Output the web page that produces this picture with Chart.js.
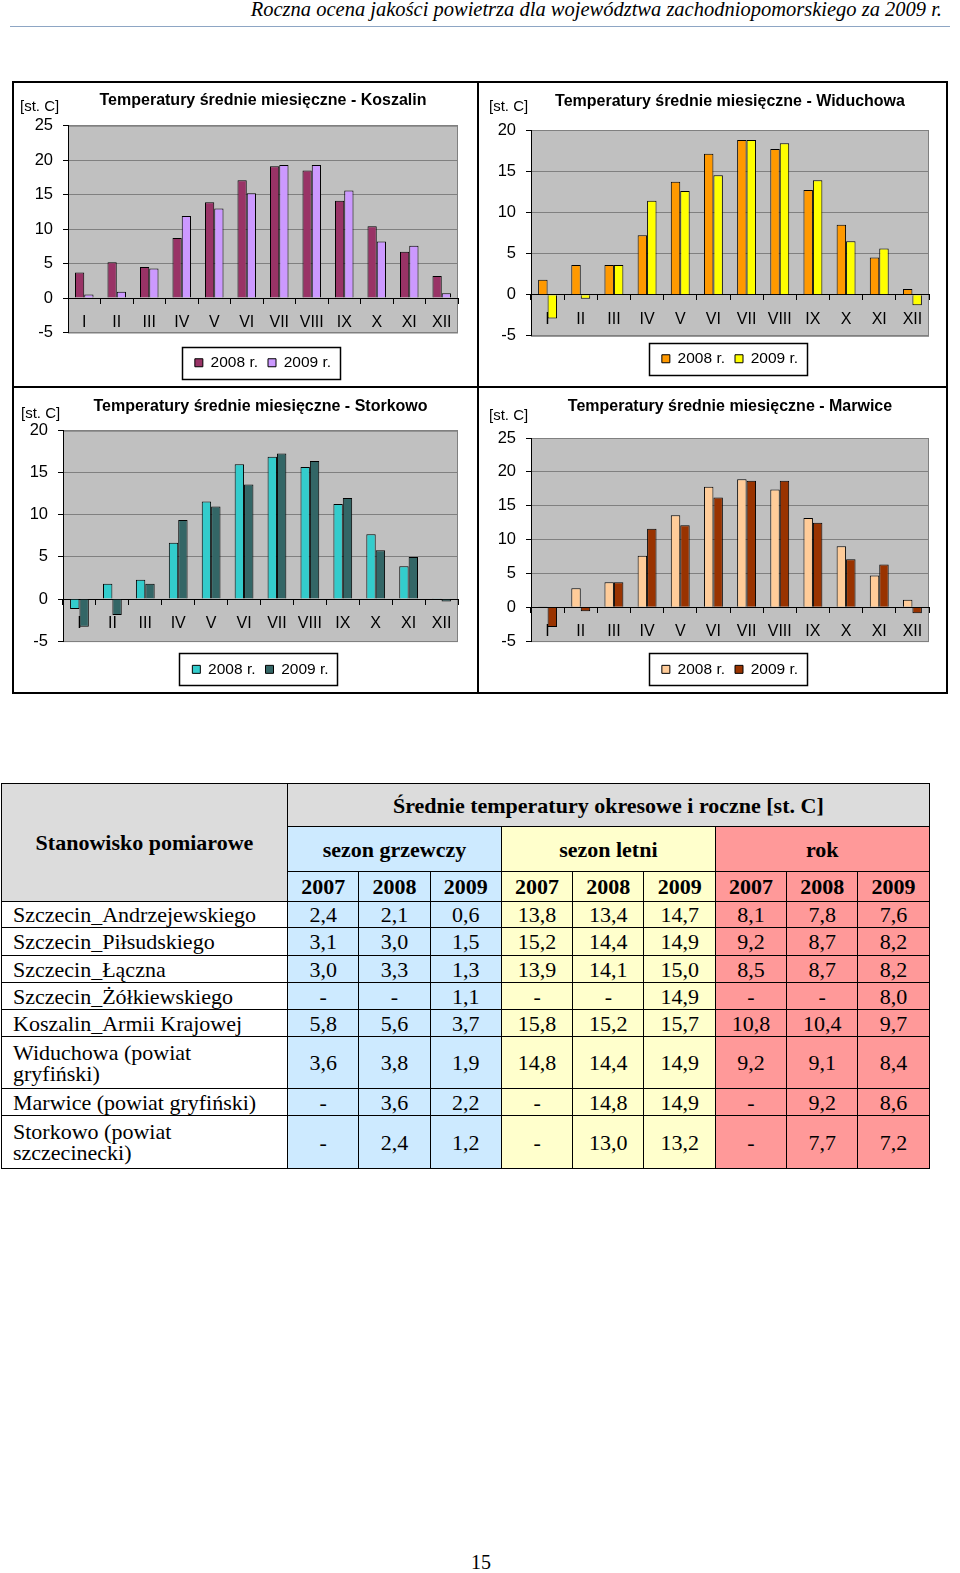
<!DOCTYPE html>
<html lang="pl">
<head>
<meta charset="utf-8">
<script src="https://cdn.jsdelivr.net/npm/chart.js@4.4.1/dist/chart.umd.min.js"></script>
<style>
  body { margin: 0; width: 960px; height: 1573px; position: relative; background: #fff; font-family: "Liberation Sans", Arial, sans-serif; overflow: hidden; }
  .header { position: absolute; right: 18px; top: -2px; font: italic 20.5px "Liberation Serif", "Times New Roman", serif; white-space: nowrap; }
  .hline { position: absolute; left: 10px; top: 26px; width: 940px; height: 0; border-top: 1.5px solid #8ea6c4; }
  .box { position: absolute; background: #000; }
  .panel { position: absolute; }
  .unit { position: absolute; font-size: 15px; line-height: 18px; white-space: nowrap; }
  table { position: absolute; left: 1px; top: 783px; border-collapse: collapse; table-layout: fixed; width: 928px;
          font: 22px/21px "Liberation Serif", "Times New Roman", serif; }
  td { border: 1px solid #000; padding: 0; text-align: center; vertical-align: middle; }
  td.name { text-align: left; padding-left: 11px; white-space: pre-line; background: #fff; }
  .hd { font-weight: bold; background: #dcdcdc; }
  .g { background: #cdeaff; }
  .s { background: #ffffcc; }
  .r { background: #ff9999; }
  .b { font-weight: bold; }
  .page { position: absolute; left: 0; width: 962px; top: 1551px; text-align: center; font: 20px "Liberation Serif", "Times New Roman", serif; }
</style>
</head>
<body>
<div class="header">Roczna ocena jakości powietrza dla województwa zachodniopomorskiego za 2009 r.</div>
<div class="hline"></div>

<div class="panel" style="left:13px; top:82px;"><canvas id="koszalin" width="464" height="303"></canvas></div>
<div class="panel" style="left:479px; top:82px;"><canvas id="widuchowa" width="468" height="303"></canvas></div>
<div class="panel" style="left:13px; top:388px;"><canvas id="storkowo" width="464" height="305"></canvas></div>
<div class="panel" style="left:479px; top:388px;"><canvas id="marwice" width="468" height="305"></canvas></div>

<div class="unit" style="left:20px; top:97px;">[st. C]</div>
<div class="unit" style="left:489px; top:97px;">[st. C]</div>
<div class="unit" style="left:21px; top:404px;">[st. C]</div>
<div class="unit" style="left:489px; top:406px;">[st. C]</div>

<!-- ramki wykresów -->
<div class="box" style="left:12px; top:81px; width:936px; height:2px;"></div>
<div class="box" style="left:12px; top:692px; width:936px; height:2px;"></div>
<div class="box" style="left:12px; top:81px; width:2px; height:613px;"></div>
<div class="box" style="left:946px; top:81px; width:2px; height:613px;"></div>
<div class="box" style="left:477px; top:81px; width:2px; height:613px;"></div>
<div class="box" style="left:12px; top:386px; width:936px; height:2px;"></div>

<table id="tbl"></table>
<div class="page">15</div>

<script>
Chart.defaults.font.family = '"Liberation Sans", Arial, sans-serif';
Chart.defaults.color = '#000';

const months = ['I', 'II', 'III', 'IV', 'V', 'VI', 'VII', 'VIII', 'IX', 'X', 'XI', 'XII'];
const seriesLabels = ['2008 r.', '2009 r.'];

const koszalin2008 = [3.7, 5.2, 4.5, 8.7, 13.9, 17.1, 19.1, 18.5, 14.1, 10.4, 6.7, 3.2];
const koszalin2009 = [0.5, 0.9, 4.3, 11.9, 13.0, 15.2, 19.3, 19.3, 15.6, 8.2, 7.6, 0.7];
const widuchowa2008 = [1.8, 3.6, 3.6, 7.2, 13.7, 17.1, 18.8, 17.7, 12.7, 8.5, 4.5, 0.7];
const widuchowa2009 = [-2.9, -0.5, 3.6, 11.4, 12.6, 14.5, 18.8, 18.4, 13.9, 6.5, 5.6, -1.3];
const storkowo2008 = [-1.2, 1.8, 2.3, 6.7, 11.6, 16.0, 16.9, 15.7, 11.3, 7.7, 3.9, 0.1];
const storkowo2009 = [-3.3, -1.9, 1.8, 9.4, 11.0, 13.6, 17.3, 16.4, 12.0, 5.8, 5.0, -0.3];
const marwice2008 = [0.1, 2.8, 3.7, 7.6, 13.6, 17.8, 18.9, 17.4, 13.2, 9.0, 4.7, 1.1];
const marwice2009 = [-2.9, -0.6, 3.7, 11.6, 12.1, 16.2, 18.7, 18.7, 12.5, 7.1, 6.3, -0.9];

// tabela
const stations = ['Szczecin_Andrzejewskiego', 'Szczecin_Piłsudskiego', 'Szczecin_Łączna', 'Szczecin_Żółkiewskiego',
  'Koszalin_Armii Krajowej', 'Widuchowa (powiat\ngryfiński)', 'Marwice (powiat gryfiński)', 'Storkowo (powiat\nszczecinecki)'];
const tableYears = ['2007', '2008', '2009'];
const heating2007 = [2.4, 3.1, 3.0, null, 5.8, 3.6, null, null];
const heating2008 = [2.1, 3.0, 3.3, null, 5.6, 3.8, 3.6, 2.4];
const heating2009 = [0.6, 1.5, 1.3, 1.1, 3.7, 1.9, 2.2, 1.2];
const summer2007 = [13.8, 15.2, 13.9, null, 15.8, 14.8, null, null];
const summer2008 = [13.4, 14.4, 14.1, null, 15.2, 14.4, 14.8, 13.0];
const summer2009 = [14.7, 14.9, 15.0, 14.9, 15.7, 14.9, 14.9, 13.2];
const year2007 = [8.1, 9.2, 8.5, null, 10.8, 9.2, null, null];
const year2008 = [7.8, 8.7, 8.7, null, 10.4, 9.1, 9.2, 7.7];
const year2009 = [7.6, 8.2, 8.2, 8.0, 9.7, 8.4, 8.6, 7.2];
const rowHeights = [26, 28, 27, 27, 27, 52, 27, 53];

const plotBg = {
  id: 'plotBg',
  beforeDraw(chart) {
    const { ctx, chartArea: a } = chart;
    ctx.save();
    ctx.fillStyle = '#c0c0c0';
    ctx.fillRect(a.left, a.top, a.width, a.height);
    ctx.strokeStyle = '#808080';
    ctx.lineWidth = 1;
    ctx.strokeRect(a.left + 0.5, a.top + 0.5, a.width - 1, a.height);
    ctx.restore();
  }
};

const legendFrame = {
  id: 'legendFrame',
  afterDraw(chart) {
    const boxes = chart.legend.legendHitBoxes;
    if (!boxes.length) return;
    let l = Infinity, r = -Infinity, cy = 0;
    boxes.forEach(b => { l = Math.min(l, b.left); r = Math.max(r, b.left + b.width); cy += b.top + b.height / 2; });
    cy /= boxes.length;
    const ctx = chart.ctx;
    ctx.save();
    ctx.strokeStyle = '#000';
    ctx.lineWidth = 1.5;
    ctx.strokeRect(Math.round(l - 13) + 0.5, Math.round(cy - 16) + 0.5, Math.round(r - l + 22), 32);
    ctx.restore();
  }
};

function makeChart(id, title, d08, d09, c08, c09, yMax, geo) {
  return new Chart(document.getElementById(id), {
    type: 'bar',
    data: {
      labels: months,
      datasets: [
        { label: seriesLabels[0], data: d08, backgroundColor: c08, borderColor: '#000', borderWidth: 1 },
        { label: seriesLabels[1], data: d09, backgroundColor: c09, borderColor: '#000', borderWidth: 1 }
      ]
    },
    options: {
      responsive: false,
      animation: false,
      datasets: { bar: { categoryPercentage: 0.57, barPercentage: 1 } },
      layout: { padding: { top: 0, right: geo.padRight, bottom: geo.lb, left: 0 } },
      scales: {
        y: {
          min: -5, max: yMax,
          ticks: { stepSize: 5, font: { size: 16.5 }, color: '#000', padding: 10 },
          grid: { color: '#808080', tickColor: '#000', tickLength: 5 },
          border: { color: '#000' },
          afterFit: s => { s.width = geo.plotLeft; }
        },
        x: {
          position: { y: 0 },
          grid: { display: true, drawOnChartArea: false, offset: true, tickLength: 5, tickColor: '#000' },
          border: { color: '#000' },
          ticks: { font: { size: 16 }, color: '#000', padding: 10, maxRotation: 0, autoSkip: false },
          afterFit: s => { s.height = 0; }
        }
      },
      plugins: {
        title: {
          display: true, text: title, fullSize: false, color: '#000',
          font: { size: 16, weight: 'bold' }, padding: { top: geo.tpt, bottom: geo.tpb }
        },
        legend: {
          position: 'bottom', fullSize: false,
          labels: { boxWidth: 8, boxHeight: 8, padding: 10, color: '#000', font: { size: 15.5 } },
          title: { display: true, text: '', font: { size: 1, lineHeight: 1 }, padding: { top: geo.ltp, bottom: 0 } }
        },
        tooltip: { enabled: false }
      }
    },
    plugins: [plotBg, legendFrame]
  });
}

makeChart('koszalin', 'Temperatury średnie miesięczne - Koszalin', koszalin2008, koszalin2009,
  '#993366', '#cc99ff', 25, { plotLeft: 55, padRight: 19, tpt: 9.4, tpb: 15.1, ltp: 11.5, lb: 4.5 });
makeChart('widuchowa', 'Temperatury średnie miesięczne - Widuchowa', widuchowa2008, widuchowa2009,
  '#ff9900', '#ffff00', 20, { plotLeft: 52, padRight: 18, tpt: 10.1, tpb: 18.7, ltp: 4.2, lb: 8.5 });
makeChart('storkowo', 'Temperatury średnie miesięczne - Storkowo', storkowo2008, storkowo2009,
  '#33cccc', '#336666', 20, { plotLeft: 50, padRight: 19, tpt: 9.4, tpb: 14.1, ltp: 9.5, lb: 5.9 });
makeChart('marwice', 'Temperatury średnie miesięczne - Marwice', marwice2008, marwice2009,
  '#ffcc99', '#993300', 25, { plotLeft: 52, padRight: 18, tpt: 9.4, tpb: 21.4, ltp: 9.5, lb: 5.9 });

// budowa tabeli
function fmt(v) {
  return v == null ? '-' : v.toFixed(1).replace('.', ',');
}
const groups = [
  { cls: 'g', cols: [heating2007, heating2008, heating2009] },
  { cls: 's', cols: [summer2007, summer2008, summer2009] },
  { cls: 'r', cols: [year2007, year2008, year2009] }
];
let html = '<colgroup><col style="width:286px">' + '<col style="width:71.3px">'.repeat(9) + '</colgroup>';
html += '<tr style="height:43px"><td class="hd" rowspan="3">Stanowisko pomiarowe</td>' +
  '<td class="hd" colspan="9">Średnie temperatury okresowe i roczne [st. C]</td></tr>';
html += '<tr style="height:45px"><td class="g b" colspan="3">sezon grzewczy</td>' +
  '<td class="s b" colspan="3">sezon letni</td><td class="r b" colspan="3">rok</td></tr>';
html += '<tr style="height:30px">';
groups.forEach(g => tableYears.forEach(y => { html += '<td class="' + g.cls + ' b">' + y + '</td>'; }));
html += '</tr>';
stations.forEach((name, i) => {
  html += '<tr style="height:' + rowHeights[i] + 'px"><td class="name">' + name + '</td>';
  groups.forEach(g => g.cols.forEach(col => { html += '<td class="' + g.cls + '">' + fmt(col[i]) + '</td>'; }));
  html += '</tr>';
});
document.getElementById('tbl').innerHTML = html;
</script>
</body>
</html>
